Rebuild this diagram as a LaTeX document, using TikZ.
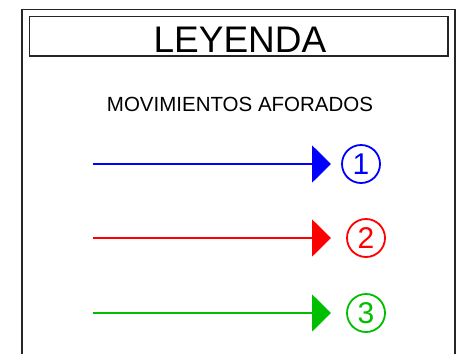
\documentclass[tikz,border=0pt]{standalone}
\usepackage{fontspec}
\setmainfont{Liberation Sans}
\usepackage{xcolor}
\usetikzlibrary{arrows.meta, positioning}

\definecolor{movblue}{RGB}{0,0,255}
\definecolor{movred}{RGB}{255,0,0}
\definecolor{movgreen}{RGB}{0,190,0}

\begin{document}
\begin{tikzpicture}[
    x=1pt, y=-1pt,
    framebox/.style={draw=black!85, line width=1.4pt},
    titlebox/.style={rectangle, draw=black!85, line width=1.1pt, minimum width=418.5pt, minimum height=39.5pt, inner sep=0pt},
    movarrow/.style={-{Triangle[length=19pt, width=37pt]}, line width=2pt},
    numcircle/.style={circle, draw, line width=1.8pt, minimum size=38pt, inner sep=0pt, font=\fontsize{30}{30}\selectfont},
]
\useasboundingbox (0,0) rectangle (468,354);

% marco exterior, abierto por abajo
\draw[framebox] (22,354) -- (22,9.5) -- (455,9.5) -- (455,354);

\node[titlebox] (title) at (238.75,36.25) {};
\node[anchor=base, font=\fontsize{37}{37}\selectfont] (leyenda) at (240,52) {LEYENDA};
\node[anchor=base, font=\fontsize{20.5}{20.5}\selectfont] (subtitle) at (240,111) {MOVIMIENTOS AFORADOS};

% movimientos
\coordinate (s1) at (93,164);
\coordinate (e1) at (331,164);
\coordinate (s2) at (93,238);
\coordinate (e2) at (331,238);
\coordinate (s3) at (93,313);
\coordinate (e3) at (331,313);

\node[numcircle, movblue] (n1) at (361,164) {1};
\node[numcircle, movred] (n2) at (366,238) {2};
\node[numcircle, movgreen] (n3) at (366,313) {3};

\draw[movarrow, movblue] (s1) -- (e1);
\draw[movarrow, movred] (s2) -- (e2);
\draw[movarrow, movgreen] (s3) -- (e3);
\end{tikzpicture}
\end{document}
